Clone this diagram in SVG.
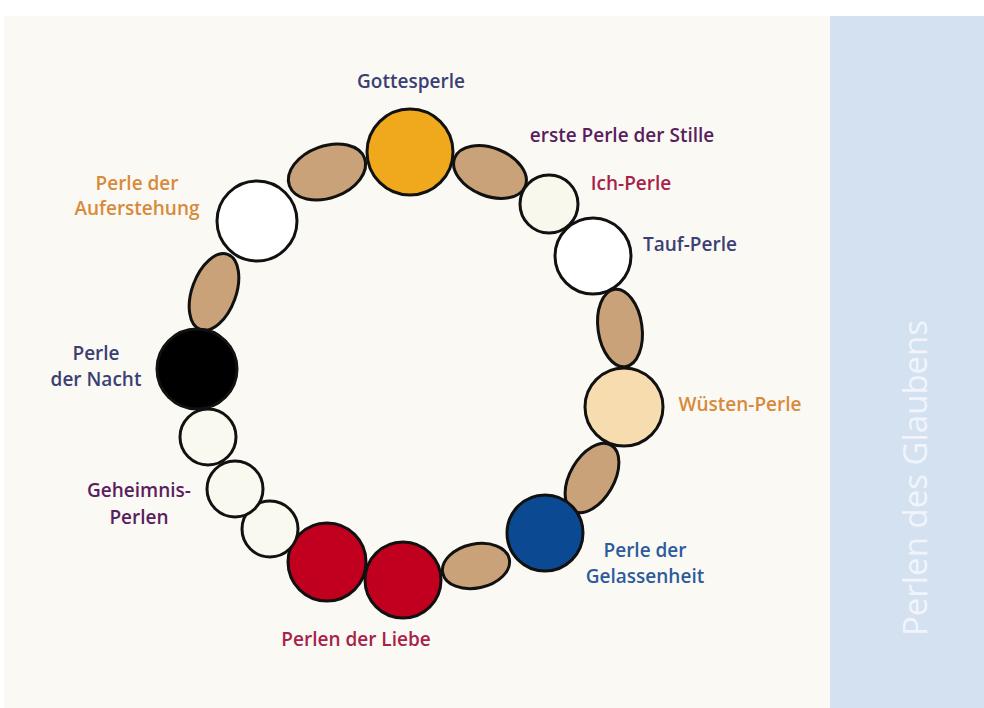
<svg xmlns="http://www.w3.org/2000/svg" width="984" height="708" viewBox="0 0 984 708">
<style>
.bead{stroke:#111;stroke-width:3}
.brown{fill:#c9a279}
.lbl{font-family:"Open Sans","Liberation Sans",sans-serif;font-weight:600;font-size:19px;text-anchor:middle}
.navy{fill:#3c3f74}
.purple{fill:#5b1d5f}
.crimson{fill:#a6224b}
.orange{fill:#d88a3c}
.blue{fill:#2e5b9c}
</style>
<rect x="0" y="0" width="984" height="708" fill="#ffffff"/>
<rect x="4" y="16" width="826" height="692" fill="#faf9f3"/>
<rect x="830" y="16" width="154" height="692" fill="#d4e1f1"/>
<text x="918" y="478" transform="rotate(-90 918 478)" font-family="'Open Sans','Liberation Sans',sans-serif" font-size="33" fill="#f1f5fb" text-anchor="middle" dominant-baseline="middle">Perlen des Glaubens</text>

<g id="bead-brown-1"><ellipse class="bead brown" cx="327" cy="172" rx="40" ry="26" transform="rotate(-20 327 172)"/></g>
<g id="bead-brown-2"><ellipse class="bead brown" cx="490" cy="172" rx="38" ry="24" transform="rotate(22 490 172)"/></g>
<g id="bead-brown-3"><ellipse class="bead brown" cx="620" cy="328" rx="22" ry="39" transform="rotate(-8 620 328)"/></g>
<g id="bead-brown-4"><ellipse class="bead brown" cx="592" cy="478" rx="22" ry="38" transform="rotate(30 592 478)"/></g>
<g id="bead-brown-5"><ellipse class="bead brown" cx="476" cy="566" rx="34" ry="22" transform="rotate(-12 476 566)"/></g>
<g id="bead-brown-6"><ellipse class="bead brown" cx="214" cy="292" rx="22" ry="40" transform="rotate(20 214 292)"/></g>

<g id="gottesperle">
<circle class="bead" cx="410" cy="152" r="43" fill="#f0a81c"/>
<text class="lbl navy" x="411" y="88">Gottesperle</text>
</g>
<g id="erste-perle-der-stille">
<text class="lbl purple" x="622" y="142">erste Perle der Stille</text>
</g>
<g id="ich-perle">
<circle class="bead" cx="549" cy="204" r="29" fill="#f9f8ec"/>
<text class="lbl crimson" x="631" y="190">Ich-Perle</text>
</g>
<g id="tauf-perle">
<circle class="bead" cx="593" cy="256" r="38" fill="#ffffff"/>
<text class="lbl navy" x="690" y="251">Tauf-Perle</text>
</g>
<g id="wuesten-perle">
<circle class="bead" cx="624" cy="407" r="39" fill="#f7dcb0"/>
<text class="lbl orange" x="740" y="411">Wüsten-Perle</text>
</g>
<g id="perle-der-gelassenheit">
<circle class="bead" cx="545" cy="533" r="38" fill="#0b4a92"/>
<text class="lbl blue" x="645" y="557">Perle der</text>
<text class="lbl blue" x="645" y="583">Gelassenheit</text>
</g>
<g id="perlen-der-liebe">
<circle class="bead" cx="327" cy="562" r="39" fill="#c0001e"/>
<circle class="bead" cx="403" cy="580" r="38" fill="#c0001e"/>
<text class="lbl crimson" x="356" y="646">Perlen der Liebe</text>
</g>
<g id="geheimnis-perlen">
<circle class="bead" cx="270" cy="529" r="28" fill="#f9f9ef"/>
<circle class="bead" cx="235" cy="489" r="28" fill="#f9f9ef"/>
<circle class="bead" cx="208" cy="437" r="28" fill="#f9f9ef"/>
<text class="lbl purple" x="139" y="497">Geheimnis-</text>
<text class="lbl purple" x="139" y="524">Perlen</text>
</g>
<g id="perle-der-nacht">
<circle class="bead" cx="197" cy="369" r="40" fill="#000000"/>
<text class="lbl navy" x="96" y="360">Perle</text>
<text class="lbl navy" x="96" y="386">der Nacht</text>
</g>
<g id="perle-der-auferstehung">
<circle class="bead" cx="257" cy="221" r="40" fill="#ffffff"/>
<text class="lbl orange" x="137" y="190">Perle der</text>
<text class="lbl orange" x="137" y="215">Auferstehung</text>
</g>
</svg>
